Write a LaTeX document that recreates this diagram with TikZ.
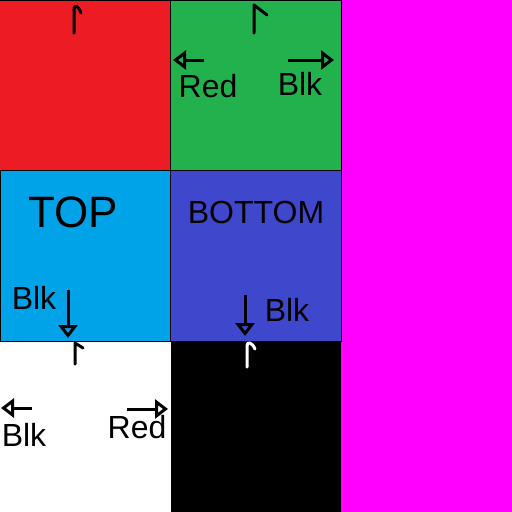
\documentclass[tikz,border=0pt]{standalone}
\usepackage{fontspec}
\setmainfont{Liberation Sans}
\usetikzlibrary{arrows.meta}
\definecolor{paintred}{HTML}{ED1C24}
\definecolor{paintgreen}{HTML}{22B14C}
\definecolor{paintblue}{HTML}{00A2E8}
\definecolor{paintindigo}{HTML}{3F48CC}
\definecolor{paintpink}{HTML}{FF00FF}

\begin{document}
\begin{tikzpicture}[x=1pt, y=-1pt, every node/.style={font=\fontsize{32}{34}\selectfont, inner sep=0pt},
  tile/.style={draw=black, line width=1pt},
  hook/.style={line width=3pt, line cap=round, line join=round},
  arr/.style={line width=3pt, -{Triangle[open, length=13pt, width=19pt]}}]
  \useasboundingbox (0,0) rectangle (512,512);
  % tiles
  \fill[paintred] (0,0) rectangle (170.7,170.7);
  \fill[paintgreen] (170.7,0) rectangle (341.3,170.7);
  \fill[paintblue] (0,170.7) rectangle (170.7,341.3);
  \fill[paintindigo] (170.7,170.7) rectangle (341.3,341.3);
  \fill[white] (0,341.3) rectangle (170.7,512);
  \fill[black] (170.7,341.3) rectangle (341.3,512);
  \fill[paintpink] (341.3,0) rectangle (512,512);
  \draw[tile] (0,0.5) -- (170.7,0.5);
  \draw[tile] (170.7,0.5) rectangle (341.3,170.7);
  \draw[tile] (0.5,170.7) rectangle (341.3,341.3) (170.7,170.7) -- (170.7,341.3);
  % hooks
  \draw[hook] (74,33) -- (74,10) .. controls (74,4) and (78,5) .. (81,13);
  \draw[hook] (254,33) -- (254,5) -- (267,15);
  \draw[hook] (75,364) -- (75,343) -- (83,348);
  \draw[hook, white] (247,367) -- (247,346) .. controls (247,341) and (252,342) .. (255,349);
  % labels
  \node (gRed) at (208,86) {Red};
  \node (gBlk) at (300,84) {Blk};
  \node[font=\fontsize{44}{46}\selectfont] (top) at (73,212) {TOP};
  \node (tBlk) at (34,298) {Blk};
  \node (bottom) at (256,212) {BOTTOM};
  \node (bBlk) at (287,310) {Blk};
  \node (wBlk) at (24,435) {Blk};
  \node (wRed) at (137,427) {Red};
  % arrows
  \coordinate (gRedTail) at (204,60);
  \coordinate (gRedTip) at (173,60);
  \coordinate (gBlkTail) at (288,60);
  \coordinate (gBlkTip) at (334,60);
  \coordinate (tBlkTail) at (68,290);
  \coordinate (tBlkTip) at (68,338);
  \coordinate (bBlkTail) at (245,295);
  \coordinate (bBlkTip) at (245,336);
  \coordinate (wBlkTail) at (32,408);
  \coordinate (wBlkTip) at (1,408);
  \coordinate (wRedTail) at (127,409);
  \coordinate (wRedTip) at (168,409);
  \draw[arr] (gRedTail) -- (gRedTip);
  \draw[arr] (gBlkTail) -- (gBlkTip);
  \draw[arr] (tBlkTail) -- (tBlkTip);
  \draw[arr] (bBlkTail) -- (bBlkTip);
  \draw[arr] (wBlkTail) -- (wBlkTip);
  \draw[arr] (wRedTail) -- (wRedTip);
\end{tikzpicture}
\end{document}
